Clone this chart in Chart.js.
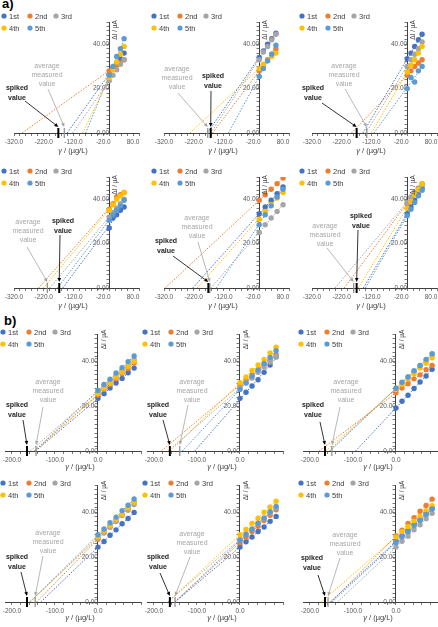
<!DOCTYPE html>
<html>
<head>
<meta charset="utf-8">
<script src="https://cdn.jsdelivr.net/npm/chart.js@4.4.1/dist/chart.umd.min.js"></script>
<style>
html, body { margin: 0; padding: 0; background: #fff; width: 438px; height: 627px; overflow: hidden; position: relative; }
canvas { position: absolute; }
.tag { position: absolute; font: bold 13px 'Liberation Sans', Arial, sans-serif; color: #000; }
</style>
</head>
<body>
<div class="tag" style="left:2px;top:-4px">a)</div>
<div class="tag" style="left:4px;top:313px">b)</div>
<script>
const FONT = "'Liberation Sans', Arial, sans-serif";
Chart.defaults.font.family = FONT;

const seriesLabels = ['1st', '2nd', '3rd', '4th', '5th'];
const seriesColors = ['#4472C4', '#ED7D31', '#A5A5A5', '#FFC000', '#5B9BD5'];

// added concentration, µg/L
const xA = [0, 12.5, 25, 37.5, 50];
const xA2 = [0, 14, 28, 42, 56];
const xA5 = [0, 20, 40, 60, 80];
const xB = [0, 14, 28, 42, 56, 70, 84];

// ΔI / µA, rows = 1st..5th measurement
const panelA1 = [
  [26.5, 29, 31.5, 33.5, 36],
  [28, 29.5, 30.5, 31.5, 33],
  [23.5, 26, 28.5, 31, 33],
  [25, 28.5, 32, 35.5, 39],
  [26, 30, 34.5, 38, 42.5]
];
const panelA2 = [
  [34, 37, 40, 42.5, 45],
  [28, 30.5, 33, 35.5, 38],
  [33, 36.5, 39, 42, 44.5],
  [29, 31, 32.5, 34.5, 36],
  [25.5, 29, 32.5, 35.5, 39.5]
];
const panelA3 = [
  [33.5, 36, 39, 42, 44.5],
  [26, 28, 30, 31.5, 33],
  [30, 33, 35.5, 38, 41],
  [27.5, 30.5, 33, 36, 39],
  [20, 25, 23, 28, 30]
];
const panelA4 = [
  [27, 31.5, 33, 35, 36.5],
  [35.5, 38, 41, 42, 43],
  [32, 34, 36, 38, 40],
  [35, 37.5, 40, 41.5, 43],
  [30.5, 33, 35, 37, 39.5]
];
const panelA5 = [
  [33.5, 36.5, 39.5, 42.5, 45.5],
  [39.5, 42, 44.5, 47, 49.5],
  [25, 28.5, 31.5, 34.5, 37.5],
  [31, 34.5, 37.5, 40.5, 43],
  [28.5, 33, 37, 41, 44.5]
];
const panelA6 = [
  [33.5, 36.5, 39.5, 42, 45],
  [38, 40.5, 43, 45, 47],
  [38.5, 41, 43, 45, 46.5],
  [36, 39, 42, 44.5, 47],
  [32.5, 35.5, 38.5, 41.5, 44]
];
const panelB1 = [
  [23.5, 25.6, 28.1, 30.3, 32.4, 34.9, 37.0],
  [25.0, 27.5, 29.7, 32.2, 34.6, 36.8, 39.3],
  [26.5, 28.8, 31.3, 33.5, 36.0, 38.2, 40.7],
  [25.5, 28.0, 30.2, 32.9, 35.1, 37.7, 40.0],
  [27.0, 29.7, 32.0, 34.8, 37.2, 39.9, 42.4]
];
const panelB2 = [
  [23.5, 26.2, 29.0, 31.8, 35.1, 38.4, 42.0],
  [29.5, 31.6, 34.1, 36.3, 38.4, 40.8, 43.0],
  [28.0, 30.5, 32.6, 35.1, 37.5, 39.7, 42.2],
  [30.5, 33.0, 35.9, 38.4, 40.9, 43.8, 46.3],
  [27.5, 30.3, 33.4, 36.1, 39.1, 41.8, 44.8]
];
const panelB3 = [
  [19.2, 22.2, 24.9, 27.9, 30.8, 33.5, 36.5],
  [26.0, 28.1, 30.0, 32.2, 34.0, 36.3, 38.2],
  [28.0, 30.4, 33.1, 35.4, 38.1, 40.4, 43.0],
  [27.5, 29.8, 32.3, 34.5, 37.0, 39.2, 41.6],
  [28.0, 30.7, 33.0, 35.8, 38.2, 40.9, 43.4]
];
const panelB4 = [
  [24.5, 27.0, 29.8, 32.2, 34.9, 37.3, 40.0],
  [28.0, 30.9, 33.4, 36.4, 38.9, 41.9, 44.5],
  [28.5, 30.9, 33.6, 35.9, 38.6, 40.9, 43.5],
  [29.0, 31.7, 34.1, 36.9, 39.2, 42.0, 44.5],
  [30.0, 32.6, 35.4, 37.9, 40.8, 43.2, 46.0]
];
const panelB5 = [
  [24.5, 26.9, 29.0, 31.5, 33.5, 36.0, 38.2],
  [26.5, 28.9, 31.5, 33.8, 36.4, 38.7, 41.2],
  [28.0, 30.4, 32.6, 35.1, 37.2, 39.8, 42.0],
  [30.0, 32.4, 35.1, 37.4, 40.1, 42.4, 45.0],
  [27.5, 30.1, 32.5, 35.2, 37.5, 40.3, 42.7]
];
const panelB6 = [
  [27.0, 29.6, 31.9, 34.6, 36.8, 39.5, 41.9],
  [29.5, 32.1, 35.1, 37.6, 40.5, 43.1, 45.9],
  [24.5, 27.1, 29.4, 32.2, 34.5, 37.2, 39.6],
  [29.0, 31.4, 33.6, 36.1, 38.2, 40.8, 43.0],
  [26.5, 29.1, 31.4, 34.1, 36.4, 39.1, 41.5]
];

// spiked and average measured concentration (negative x), µg/L
const spikedA = [-171, -163, -170, -168, -171, -170];
const measuredA = [-151, -173, -136, -208, -166, -180];
const spikedB = [-165, -163, -165, -165, -163, -165];
const measuredB = [-144, -140, -149, -146, -151, -158];

const xTickLabelsA = [-320, -220, -120, -20, 80];
const xTickLabelsB = [-200, -100, 0];
const yTickLabels = [0, 20, 40];

const panels = [
  {left: 0,   top: 0,   part: 'a', xs: xA,  ys: panelA1, spiked: spikedA[0], measured: measuredA[0], spText: [17, 88], avText: [47, 66], spFrom: [25, 101], avFrom: [48, 89]},
  {left: 150, top: 0,   part: 'a', xs: xA2, ys: panelA2, spiked: spikedA[1], measured: measuredA[1], spText: [63, 76], avText: [27, 69], spFrom: [61, 91], avFrom: [28, 93]},
  {left: 298, top: 0,   part: 'a', xs: xA,  ys: panelA3, spiked: spikedA[2], measured: measuredA[2], spText: [15, 88], avText: [46, 66], spFrom: [24, 103], avFrom: [47, 89]},
  {left: 0,   top: 155, part: 'a', xs: xA,  ys: panelA4, spiked: spikedA[3], measured: measuredA[3], spText: [63, 66], avText: [28, 67], spFrom: [60, 80], avFrom: [27, 92]},
  {left: 150, top: 155, part: 'a', xs: xA5, ys: panelA5, spiked: spikedA[4], measured: measuredA[4], spText: [16, 86], avText: [47, 63], spFrom: [23, 101], avFrom: [48, 87]},
  {left: 298, top: 155, part: 'a', xs: xA,  ys: panelA6, spiked: spikedA[5], measured: measuredA[5], spText: [63, 61], avText: [27, 71], spFrom: [60, 75], avFrom: [29, 93]},
  {left: 0,   top: 318, part: 'b', xs: xB, ys: panelB1, spiked: spikedB[0], measured: measuredB[0], spText: [17, 87], avText: [48, 64], spFrom: [23, 102], avFrom: [43, 89]},
  {left: 142, top: 318, part: 'b', xs: xB, ys: panelB2, spiked: spikedB[1], measured: measuredB[1], spText: [16, 87], avText: [50, 64], spFrom: [21, 102], avFrom: [46, 87]},
  {left: 298, top: 318, part: 'b', xs: xB, ys: panelB3, spiked: spikedB[2], measured: measuredB[2], spText: [15, 87], avText: [48, 64], spFrom: [22, 104], avFrom: [42, 89]},
  {left: 0,   top: 469, part: 'b', xs: xB, ys: panelB4, spiked: spikedB[3], measured: measuredB[3], spText: [17, 88], avText: [48, 64], spFrom: [21, 103], avFrom: [43, 87]},
  {left: 142, top: 469, part: 'b', xs: xB, ys: panelB5, spiked: spikedB[4], measured: measuredB[4], spText: [16, 88], avText: [50, 65], spFrom: [18, 104], avFrom: [48, 88]},
  {left: 298, top: 469, part: 'b', xs: xB, ys: panelB6, spiked: spikedB[5], measured: measuredB[5], spText: [14, 89], avText: [47, 66], spFrom: [20, 106], avFrom: [42, 89]}
];

// least squares line, like the Excel trendline
function fit(xs, ys) {
  const n = xs.length;
  const mx = xs.reduce((a, b) => a + b, 0) / n;
  const my = ys.reduce((a, b) => a + b, 0) / n;
  let sxy = 0, sxx = 0;
  for (let i = 0; i < n; i++) {
    sxy += (xs[i] - mx) * (ys[i] - my);
    sxx += (xs[i] - mx) * (xs[i] - mx);
  }
  const m = sxy / sxx;
  return {m: m, b: my - m * mx};
}

function arrow(ctx, from, to, color) {
  const ang = Math.atan2(to[1] - from[1], to[0] - from[0]);
  ctx.strokeStyle = color;
  ctx.fillStyle = color;
  ctx.lineWidth = 0.8;
  ctx.beginPath();
  ctx.moveTo(from[0], from[1]);
  ctx.lineTo(to[0] - 3 * Math.cos(ang), to[1] - 3 * Math.sin(ang));
  ctx.stroke();
  ctx.beginPath();
  ctx.moveTo(to[0], to[1]);
  ctx.lineTo(to[0] - 4 * Math.cos(ang) + 1.8 * Math.sin(ang), to[1] - 4 * Math.sin(ang) - 1.8 * Math.cos(ang));
  ctx.lineTo(to[0] - 4 * Math.cos(ang) - 1.8 * Math.sin(ang), to[1] - 4 * Math.sin(ang) + 1.8 * Math.cos(ang));
  ctx.closePath();
  ctx.fill();
}

const makePanel = (p) => {
  const isA = p.part === 'a';
  const cv = document.createElement('canvas');
  cv.width = 150;
  cv.height = 160;
  cv.style.left = p.left + 'px';
  cv.style.top = p.top + 'px';
  document.body.appendChild(cv);

  const xMin = isA ? -320 : -215;
  const xMax = 100;
  const yMax = isA ? 50 : 52;
  const majors = isA ? xTickLabelsA : xTickLabelsB;
  const xTickValues = [];
  for (let v = isA ? -320 : -200; v <= xMax; v += 20) xTickValues.push(v);
  const yTickValues = [];
  for (let v = 0; v <= yMax; v += 2) yTickValues.push(v);

  const datasets = [];
  p.ys.forEach((ys, k) => {
    datasets.push({
      label: seriesLabels[k],
      data: p.xs.map((x, j) => ({x: x, y: ys[j]})),
      backgroundColor: seriesColors[k],
      borderColor: seriesColors[k],
      pointRadius: 2.7,
      pointBorderWidth: 0,
      order: 5 - k,
      isSeries: true
    });
  });
  p.ys.forEach((ys, k) => {
    const f = fit(p.xs, ys);
    const xEnd = p.xs[p.xs.length - 1];
    datasets.push({
      data: [{x: -f.b / f.m, y: 0}, {x: xEnd, y: f.b + f.m * xEnd}],
      showLine: true,
      borderColor: seriesColors[k],
      borderWidth: 1,
      borderDash: [1.5, 1.5],
      pointRadius: 0,
      order: 10
    });
  });

  const overlay = {
    id: 'overlay',
    afterDraw(chart) {
      const ctx = chart.ctx;
      const xs = chart.scales.x;
      const area = chart.chartArea;
      const by = area.bottom;
      const y0 = xs.getPixelForValue(0);
      ctx.save();

      // markers on the x axis
      const sx = xs.getPixelForValue(p.spiked);
      const ax = xs.getPixelForValue(p.measured);
      ctx.strokeStyle = '#8c8c8c';
      ctx.lineWidth = 1.2;
      ctx.beginPath(); ctx.moveTo(ax, by - 5); ctx.lineTo(ax, by + 5); ctx.stroke();
      ctx.strokeStyle = '#000';
      ctx.lineWidth = 2;
      ctx.beginPath(); ctx.moveTo(sx, by - 5); ctx.lineTo(sx, by + 5); ctx.stroke();

      arrow(ctx, p.avFrom, [ax, by - 6], '#a6a6a6');
      arrow(ctx, p.spFrom, [sx, by - 6], '#000');

      ctx.textAlign = 'center';
      ctx.textBaseline = 'middle';
      ctx.font = '7px ' + FONT;
      ctx.fillStyle = '#a6a6a6';
      ['average', 'measured', 'value'].forEach((t, i) => ctx.fillText(t, p.avText[0], p.avText[1] + i * 9));
      ctx.font = 'bold 7px ' + FONT;
      ctx.fillStyle = '#262626';
      ['spiked', 'value'].forEach((t, i) => ctx.fillText(t, p.spText[0], p.spText[1] + i * 10));

      // legend
      const lx0 = isA ? 4 : 3, ly0 = isA ? 16 : 14;
      ctx.font = '7.5px ' + FONT;
      ctx.textAlign = 'left';
      chart.data.datasets.filter(d => d.isSeries).forEach((d, k) => {
        const lx = lx0 + (k % 3) * 26;
        const ly = ly0 + Math.floor(k / 3) * 12;
        ctx.fillStyle = d.backgroundColor;
        ctx.beginPath(); ctx.arc(lx, ly, 2.6, 0, 2 * Math.PI); ctx.fill();
        ctx.fillStyle = '#404040';
        ctx.fillText(d.label, lx + 5, ly + 0.5);
      });

      // axis titles
      ctx.fillStyle = '#404040';
      ctx.font = 'italic 7.5px ' + FONT;
      const g = 'γ';
      const rest = ' / (µg/L)';
      const gw = ctx.measureText(g).width;
      ctx.font = '7.5px ' + FONT;
      const rw = ctx.measureText(rest).width;
      const tx = (isA ? 73 : 80) - (gw + rw) / 2;
      const ty = isA ? 151 : 149;
      ctx.font = 'italic 7.5px ' + FONT;
      ctx.fillText(g, tx, ty);
      ctx.font = '7.5px ' + FONT;
      ctx.fillText(rest, tx + gw, ty);

      ctx.translate(y0 + 6, area.top + (isA ? 8 : 5));
      ctx.rotate(-Math.PI / 2);
      ctx.textAlign = 'center';
      ctx.font = '6.5px ' + FONT;
      ctx.fillText('ΔI / µA', 0, 0);
      ctx.restore();
    }
  };

  new Chart(cv, {
    type: 'scatter',
    data: {datasets: datasets},
    options: {
      responsive: false,
      animation: false,
      events: [],
      layout: {padding: isA ? {left: 14, right: 11, top: 22, bottom: 0} : {left: 5.5, right: 9, top: 16.5, bottom: 0}},
      plugins: {legend: {display: false}, tooltip: {enabled: false}},
      scales: {
        x: {
          type: 'linear',
          min: xMin,
          max: xMax,
          afterBuildTicks: (s) => { s.ticks = xTickValues.map(v => ({value: v})); },
          afterFit: (s) => { s.height = 27; },
          ticks: {
            autoSkip: false,
            maxRotation: 0,
            padding: 2,
            color: '#595959',
            font: {size: 6.5},
            callback: (v) => majors.includes(v) ? v.toFixed(1) : ''
          },
          grid: {drawOnChartArea: false, tickLength: 3, color: '#404040', lineWidth: 0.7},
          border: {color: '#404040', width: 1}
        },
        y: {
          type: 'linear',
          min: 0,
          max: yMax,
          position: {x: 0},
          afterBuildTicks: (s) => { s.ticks = yTickValues.map(v => ({value: v})); },
          ticks: {
            autoSkip: false,
            padding: 0,
            color: '#595959',
            font: {size: 6.5},
            callback: (v) => yTickLabels.includes(v) ? v.toFixed(2) : ''
          },
          grid: {drawOnChartArea: false, tickLength: 2.5, color: '#404040', lineWidth: 0.7},
          border: {color: '#404040', width: 1}
        }
      }
    },
    plugins: [overlay]
  });
};

panels.forEach(makePanel);
</script>
</body>
</html>
